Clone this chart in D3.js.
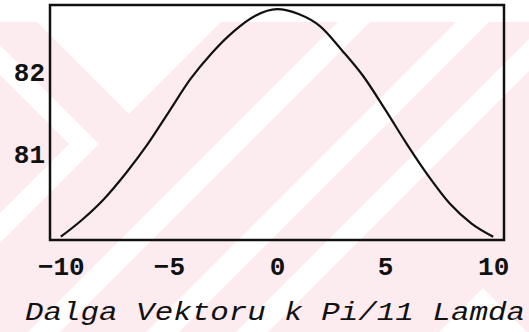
<!DOCTYPE html>
<html>
<head>
<meta charset="utf-8">
<script src="https://cdn.jsdelivr.net/npm/d3@7"></script>
<style>
  html, body { margin: 0; padding: 0; background: #ffffff; }
  svg { display: block; }
  .tick text { font-family: "Liberation Mono", "DejaVu Sans Mono", monospace; fill: #111; }
</style>
</head>
<body>
<svg id="chart" width="529" height="332"></svg>
<script>
// Wave vector k (in units of Pi/11 Lamda) and the corresponding band value
const waveVector = [-10, -9, -8, -7, -6, -5, -4, -3, -2, -1, 0, 1, 2, 3, 4, 5, 6, 7, 8, 9, 10];
const bandValue = [80.00, 80.21, 80.46, 80.77, 81.12, 81.52, 81.92, 82.24, 82.50, 82.69, 82.77,
                   82.71, 82.56, 82.27, 81.95, 81.55, 81.13, 80.74, 80.40, 80.16, 80.00];
const xTicks = [-10, -5, 0, 5, 10];
const yTicks = [81, 82];
const xTitle = "Dalga Vektoru k Pi/11 Lamda";

const W = 529, H = 332;
const plot = { left: 50, right: 504, top: 5, bottom: 240 };

const svg = d3.select("#chart");

// Faint pink watermark with white diagonal bands behind the plot
const bg = svg.append("g").attr("class", "watermark");
const pinkTop = 22;
bg.append("rect").attr("x", 0).attr("y", pinkTop).attr("width", W).attr("height", H - pinkTop)
  .attr("fill", "#fcebef");
const white = "#ffffff";
const line = d3.line();
// "/" bands: x + y between a and b
[[360, 392], [478, 511], [568, 600]].forEach(([a, b]) => {
  bg.append("path").attr("fill", white)
    .attr("d", line([[a - pinkTop, pinkTop], [b - pinkTop, pinkTop], [b - H, H], [a - H, H]]) + "Z");
});
// downward triangle at the upper left
bg.append("path").attr("fill", white)
  .attr("d", line([[37, pinkTop], [221, pinkTop], [129, 114]]) + "Z");
// ">" chevron on the left edge
bg.append("path").attr("fill", white)
  .attr("d", line([[0, 45], [99, 144], [0, 243], [0, 213], [69, 144], [0, 75]]) + "Z");
// upward wedge at the lower right
bg.append("path").attr("fill", white)
  .attr("d", line([[483, 288], [439, 332], [527, 332]]) + "Z");

// Scales
const x = d3.scaleLinear().domain([-10.5, 10.5]).range([plot.left, plot.right]);
const y = d3.scaleLinear().domain([79.96, 82.82]).range([plot.bottom, plot.top]);

// Curve
const curve = d3.line()
  .x((d, i) => x(waveVector[i]))
  .y(d => y(d))
  .curve(d3.curveMonotoneX);
svg.append("path")
  .datum(bandValue)
  .attr("fill", "none")
  .attr("stroke", "#111")
  .attr("stroke-width", 2.2)
  .attr("stroke-linejoin", "round")
  .attr("d", curve);

// Frame
svg.append("rect")
  .attr("x", plot.left).attr("y", plot.top)
  .attr("width", plot.right - plot.left).attr("height", plot.bottom - plot.top)
  .attr("fill", "none").attr("stroke", "#111").attr("stroke-width", 2.5);

// Axes (labels only, the frame carries the lines)
const xAxis = svg.append("g")
  .attr("transform", `translate(0,${plot.bottom})`)
  .call(d3.axisBottom(x).tickValues(xTicks).tickSize(0).tickPadding(16.5));
xAxis.select(".domain").remove();
xAxis.selectAll("text").attr("font-size", 26).style("font-weight", "bold");

const yAxis = svg.append("g")
  .attr("transform", `translate(${plot.left},0)`)
  .call(d3.axisLeft(y).tickValues(yTicks).tickFormat(d3.format("d")).tickSize(0).tickPadding(5));
yAxis.select(".domain").remove();
yAxis.selectAll("text").attr("font-size", 26).style("font-weight", "bold");

// Axis title
svg.append("text")
  .attr("x", 25).attr("y", 320)
  .attr("textLength", 500).attr("lengthAdjust", "spacingAndGlyphs")
  .attr("font-family", "'Liberation Mono', 'DejaVu Sans Mono', monospace")
  .attr("font-style", "italic")
  .attr("font-size", 26)
  .attr("fill", "#111")
  .text(xTitle);
</script>
</body>
</html>
